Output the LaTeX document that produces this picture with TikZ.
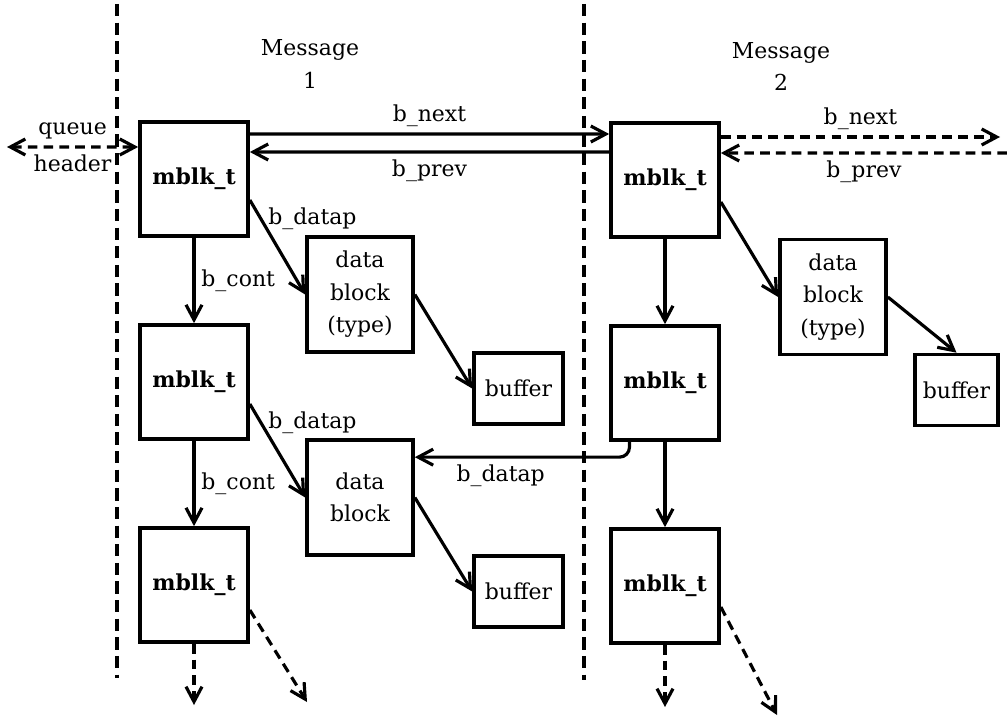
\documentclass[tikz,border=0pt]{standalone}
\usepackage{fontspec}
\setmainfont{DejaVu Serif}
\usetikzlibrary{positioning, arrows.meta}

\begin{document}
\begin{tikzpicture}[font = \fontsize{12.5}{18.5}\selectfont, node distance=4.06cm,
    >={Straight Barb[length=3mm, width=3.2mm]},
    mblk/.style={draw, black, line width=2.1pt, minimum width=2.16cm, minimum height=2.28cm, font=\fontsize{12.5}{18.5}\selectfont\bfseries},
    dblock/.style={draw, black, line width=2.1pt, minimum width=2.12cm, minimum height=2.30cm, align=center},
    buf/.style={draw, black, line width=2.1pt, minimum width=1.78cm, minimum height=1.42cm},
    sep/.style={line width=2pt, dash pattern=on 7pt off 3.6pt},
    arrow/.style={->, line width=1.8pt},
    darrow/.style={->, line width=1.8pt, dash pattern=on 5.5pt off 3.5pt},
    ]

    \useasboundingbox (0,0) rectangle (20.14,-14.32);

    % message boundaries
    \draw[sep] (2.34,-0.08) -- (2.34,-13.56);
    \draw[sep] (11.68,-0.08) -- (11.68,-13.60);

    \node(msg1) at (6.2,-1.28)[align=center]{Message\\1};
    \node(msg2) at (15.62,-1.33)[align=center]{Message\\2};

    % message 1
    \node(m1a)[mblk] at (3.88,-3.58){mblk\_t};
    \node(m1b)[mblk, below of = m1a]{mblk\_t};
    \node(m1c)[mblk, below of = m1b]{mblk\_t};
    \node(d1)[dblock] at (7.20,-5.89){data\\block\\(type)};
    \node(d2)[dblock, below of = d1]{data\\block};
    \node(b1)[buf] at (10.37,-7.77){buffer};
    \node(b2)[buf, below of = b1]{buffer};

    % message 2
    \node(m2a)[mblk] at (13.30,-3.60){mblk\_t};
    \node(m2b)[mblk, below of = m2a]{mblk\_t};
    \node(m2c)[mblk, below of = m2b]{mblk\_t};
    \node(d3)[dblock] at (16.66,-5.94){data\\block\\(type)};
    \node(b3)[buf, minimum width=1.66cm] at (19.13,-7.80){buffer};

    \coordinate (qh) at (0.14,-2.94);
    \coordinate (nx) at (20.0,-2.74);
    \coordinate (pv) at (20.14,-3.06);
    \coordinate (e1) at (3.88,-14.10);
    \coordinate (e2) at (6.14,-14.04);
    \coordinate (e3) at (13.30,-14.14);
    \coordinate (e4) at (15.54,-14.30);

    \draw[darrow, <->](qh) -- ([yshift=0.64cm]m1a.west) node[above, pos=0.5]{queue} node[below, pos=0.5]{header};

    \draw[arrow]([yshift=0.90cm]m1a.east) -- ([yshift=0.92cm]m2a.west) node[above, pos=0.5]{b\_next};
    \draw[arrow]([yshift=0.56cm]m2a.west) -- ([yshift=0.54cm]m1a.east) node[below, pos=0.5]{b\_prev};
    \draw[darrow]([yshift=0.86cm]m2a.east) -- (nx) node[above, pos=0.5]{b\_next};
    \draw[darrow](pv) -- ([yshift=0.54cm]m2a.east) node[below, pos=0.5]{b\_prev};

    \draw[arrow](m1a) -- (m1b) node[right, pos=0.5]{b\_cont};
    \draw[arrow](m1b) -- (m1c) node[right, pos=0.5]{b\_cont};
    \draw[arrow]([yshift=-0.42cm]m1a.east) -- (d1.west) node[right, pos=0.2]{b\_datap};
    \draw[arrow]([yshift=-0.44cm]m1b.east) -- (d2.west) node[right, pos=0.2]{b\_datap};
    \draw[arrow](d1.east) -- (b1.west);
    \draw[arrow](d2.east) -- (b2.west);

    \draw[arrow](m2a) -- (m2b);
    \draw[arrow](m2b) -- (m2c);
    \draw[arrow]([yshift=-0.44cm]m2a.east) -- (d3.west);
    \draw[arrow](d3.east) -- (b3.north);
    \draw[arrow, rounded corners=0.2cm]([xshift=-0.71cm]m2b.south) |- ([yshift=-0.38cm]d2.north east) node[below, pos=0.8]{b\_datap};

    % continuation
    \draw[darrow](m1c) -- (e1);
    \draw[darrow]([yshift=-0.5cm]m1c.east) -- (e2);
    \draw[darrow](m2c) -- (e3);
    \draw[darrow]([yshift=-0.42cm]m2c.east) -- (e4);

\end{tikzpicture}
\end{document}
